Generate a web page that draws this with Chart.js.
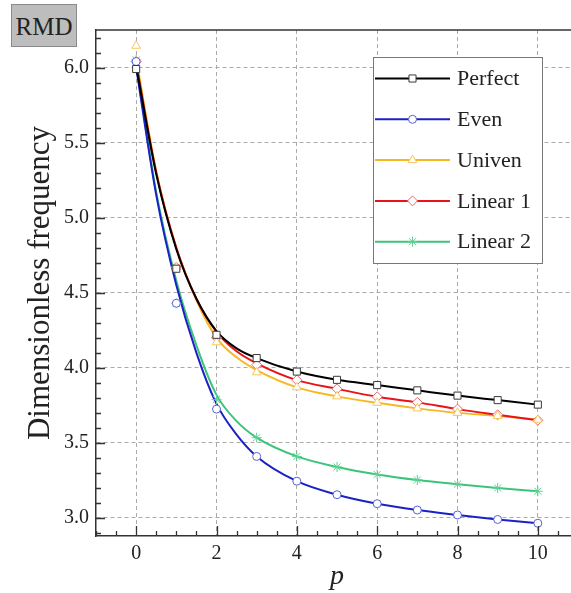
<!DOCTYPE html>
<html>
<head>
  <meta charset="utf-8" />
  <script src="https://cdn.jsdelivr.net/npm/chart.js@4.4.1/dist/chart.umd.min.js"></script>
  <style>
    body{margin:0;background:#fff;overflow:hidden;width:571px;height:593px;}
    #wrap{position:relative;width:590px;height:593px;}
    #rmd{position:absolute;left:11px;top:4px;width:66px;height:43px;background:#bdbdbd;border:1px solid #8a8a8a;
         font-family:'Liberation Serif',serif;font-size:25px;color:#222;line-height:43px;text-align:center;box-sizing:border-box;}
  </style>
</head>
<body>
<div id="wrap">
  <canvas id="chart" width="590" height="593"></canvas>
  <div id="rmd">RMD</div>
</div>

<script>
const SERIF = "'Liberation Serif', 'Times New Roman', serif";

// p values of the markers and of the drawn curves
const P = [0, 1, 2, 3, 4, 5, 6, 7, 8, 9, 10];
const P_CURVE = [0, 0.5, 1, 1.5, 2, 2.5, 3, 4, 5, 6, 7, 8, 9, 10];

const NAMES = ['Perfect', 'Even', 'Univen', 'Linear 1', 'Linear 2'];

// marker values
const PERFECT  = [5.99, 4.66, 4.22, 4.065, 3.975, 3.92, 3.885, 3.85, 3.815, 3.785, 3.755];
const EVEN     = [6.04, 4.43, 3.725, 3.41, 3.245, 3.155, 3.095, 3.053, 3.02, 2.99, 2.965];
const UNIVEN   = [6.145, 4.67, 4.17, 3.97, 3.87, 3.81, 3.767, 3.73, 3.70, 3.68, 3.655];
const LINEAR1  = [6.04, 4.67, 4.20, 4.02, 3.918, 3.86, 3.807, 3.77, 3.725, 3.687, 3.651];
const LINEAR2  = [6.05, 4.43, 3.79, 3.535, 3.41, 3.34, 3.29, 3.253, 3.225, 3.20, 3.178];

// fitted curves
const PERFECT_C = [6.01, 5.29, 4.79, 4.46, 4.245, 4.13, 4.065, 3.975, 3.92, 3.885, 3.85, 3.815, 3.785, 3.755];
const EVEN_C    = [6.00, 5.15, 4.55, 4.10, 3.76, 3.555, 3.41, 3.245, 3.155, 3.095, 3.053, 3.02, 2.99, 2.965];
const UNIVEN_C  = [6.06, 5.31, 4.80, 4.45, 4.20, 4.07, 3.985, 3.87, 3.81, 3.767, 3.73, 3.70, 3.68, 3.655];
const LINEAR1_C = [6.03, 5.30, 4.80, 4.46, 4.24, 4.11, 4.03, 3.918, 3.86, 3.807, 3.77, 3.725, 3.687, 3.651];
const LINEAR2_C = [6.02, 5.17, 4.58, 4.15, 3.82, 3.645, 3.535, 3.41, 3.34, 3.29, 3.253, 3.225, 3.20, 3.178];

const X_TICKS = [0, 2, 4, 6, 8, 10];
const Y_TICKS = [3.0, 3.5, 4.0, 4.5, 5.0, 5.5, 6.0];

const LINE_COLORS   = ['#000000', '#1a22c4', '#f7b825', '#e8131b', '#3cc47a'];
const MARKER_COLORS = ['#3a3a3a', '#5560d8', '#f7c65a', '#e66a6a', '#5fd096'];
const STYLES = [
  { pointStyle: 'rect', radius: 5 },
  { pointStyle: 'circle', radius: 4 },
  { pointStyle: 'triangle', radius: 5 },
  { pointStyle: 'rectRot', radius: 5 },
  { pointStyle: 'star', radius: 5 }
];

const MARKS = [PERFECT, EVEN, UNIVEN, LINEAR1, LINEAR2];
const CURVES = [PERFECT_C, EVEN_C, UNIVEN_C, LINEAR1_C, LINEAR2_C];

const datasets = [];
MARKS.forEach((vals, i) => {
  datasets.push({
    label: NAMES[i], kind: 'mark',
    data: P.map((p, k) => ({ x: p, y: vals[k] })),
    showLine: false,
    pointStyle: STYLES[i].pointStyle, pointRadius: STYLES[i].radius,
    pointBorderColor: MARKER_COLORS[i], pointBackgroundColor: i === 4 ? MARKER_COLORS[i] : '#ffffff',
    pointBorderWidth: 1, order: 0
  });
});
CURVES.forEach((vals, i) => {
  datasets.push({
    label: NAMES[i] + ' curve', kind: 'line', idx: i,
    data: P_CURVE.map((p, k) => ({ x: p, y: vals[k] })),
    showLine: true, pointRadius: 0, borderColor: LINE_COLORS[i], borderWidth: 2,
    cubicInterpolationMode: 'monotone', order: [1, 1, 3, 2, 1][i]
  });
});

// inward tick marks, top frame line, legend box
const framePlugin = {
  id: 'frame',
  afterDraw(chart) {
    const ctx = chart.ctx, a = chart.chartArea;
    const xs = chart.scales.x, ys = chart.scales.y;
    ctx.save();
    ctx.strokeStyle = '#333'; ctx.lineWidth = 1.3;
    ctx.beginPath();
    for (let i = -2; i <= 22; i++) {
      const v = i / 2, px = Math.round(xs.getPixelForValue(v)) + 0.5;
      const len = (i % 4 === 0) ? 10 : 5;
      ctx.moveTo(px, a.bottom); ctx.lineTo(px, a.bottom - len);
    }
    for (let i = 29; i <= 62; i++) {
      const py = Math.round(ys.getPixelForValue(i / 10)) + 0.5;
      const len = (i % 5 === 0) ? 9 : 5;
      ctx.moveTo(a.left, py); ctx.lineTo(a.left + len, py);
    }
    ctx.stroke();
    ctx.beginPath();
    ctx.lineWidth = 1.5;
    ctx.moveTo(a.left, a.top); ctx.lineTo(a.right, a.top);
    ctx.stroke();

    // legend
    const bx = 373, by = 57, bw = 169, bh = 206, gap = 40.8, y0 = 78.5;
    ctx.fillStyle = '#fff'; ctx.fillRect(bx, by, bw, bh);
    ctx.strokeStyle = '#777'; ctx.lineWidth = 1;
    ctx.strokeRect(bx + 0.5, by + 0.5, bw, bh);
    const marks = chart.data.datasets.filter(d => d.kind === 'mark');
    const lines = chart.data.datasets.filter(d => d.kind === 'line');
    marks.forEach((d, i) => {
      const y = y0 + i * gap;
      ctx.strokeStyle = lines[i].borderColor; ctx.lineWidth = 2;
      ctx.beginPath(); ctx.moveTo(375, y); ctx.lineTo(450, y); ctx.stroke();
      ctx.strokeStyle = d.pointBorderColor; ctx.fillStyle = d.pointBackgroundColor; ctx.lineWidth = 1;
      Chart.helpers.drawPoint(ctx, { pointStyle: d.pointStyle, radius: d.pointRadius, borderWidth: 1, rotation: 0 }, 412.5, y);
      ctx.fillStyle = '#222'; ctx.font = '22px ' + SERIF;
      ctx.textAlign = 'left'; ctx.textBaseline = 'middle';
      ctx.fillText(d.label, 457, y + 1);
    });
    ctx.restore();
  }
};

new Chart(document.getElementById('chart'), {
  type: 'scatter',
  data: { datasets },
  options: {
    responsive: false, animation: false,
    layout: { padding: { top: 30, right: 12, left: 0, bottom: 0 } },
    plugins: { legend: { display: false }, tooltip: { enabled: false } },
    scales: {
      x: {
        type: 'linear', min: -1, max: 11,
        afterBuildTicks: s => { s.ticks = X_TICKS.map(v => ({ value: v })); },
        afterFit: s => { s.height = 57; },
        grid: { color: '#aaaaaa', lineWidth: 1, drawTicks: false },
        border: { display: true, color: '#333', width: 1.5, dash: [4, 3] },
        ticks: { color: '#222', font: { family: SERIF, size: 20 }, padding: 6, maxRotation: 0, callback: v => String(v) },
        title: { display: true, text: 'p', color: '#222', font: { family: SERIF, size: 28, style: 'italic' }, padding: { top: 0, bottom: 0 } }
      },
      y: {
        type: 'linear', min: 2.88, max: 6.25,
        afterBuildTicks: s => { s.ticks = Y_TICKS.map(v => ({ value: v })); },
        afterFit: s => { s.width = 96; },
        grid: { color: '#aaaaaa', lineWidth: 1, drawTicks: false },
        border: { display: true, color: '#333', width: 1.5, dash: [4, 3] },
        ticks: { color: '#222', font: { family: SERIF, size: 20 }, padding: 7, callback: v => v.toFixed(1) },
        title: { display: true, text: 'Dimensionless frequency', color: '#222', font: { family: SERIF, size: 31 }, padding: { top: 22, bottom: 0 } }
      }
    }
  },
  plugins: [framePlugin]
});
</script>
</body>
</html>
